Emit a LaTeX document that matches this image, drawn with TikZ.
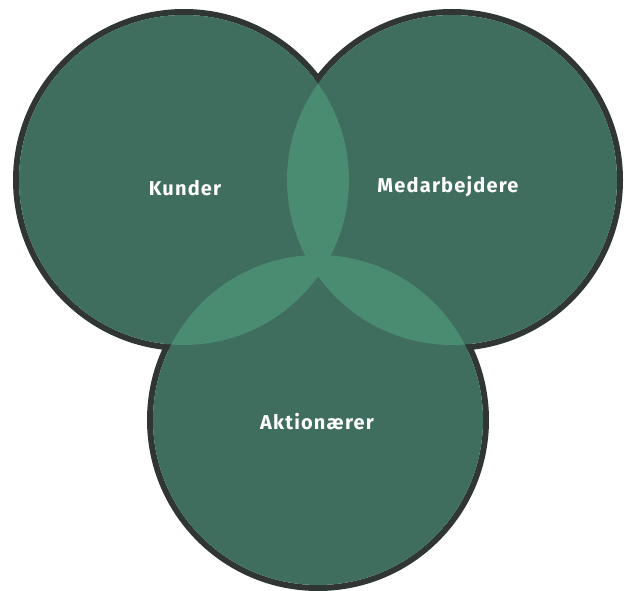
\documentclass[tikz,border=0pt]{standalone}
\usepackage{fontspec}
\setmainfont{Fira Sans}
\usetikzlibrary{positioning}
\definecolor{setfill}{RGB}{63,109,94}
\definecolor{setlens}{RGB}{74,140,114}
\definecolor{setline}{RGB}{48,54,52}
\tikzset{
  setborder/.style={
    draw=setline,
    line width=6pt
  },
  setlabel/.style={
    text=white,
    inner sep=2pt,
    font=\fontsize{20}{24}\selectfont\bfseries\addfontfeatures{LetterSpace=6}
  }
}
\begin{document}
\begin{tikzpicture}[x=1pt, y=1pt]
  \useasboundingbox (0,0) rectangle (624,590);
  \coordinate (kunder) at (184,410);
  \coordinate (medarb) at (452,410);
  \coordinate (aktion) at (318,170);

  % outer rims, then the fills on top
  \foreach \c in {kunder, medarb, aktion}
    \draw[setborder] (\c) circle[radius=168pt];
  \foreach \c in {kunder, medarb, aktion}
    \fill[setfill] (\c) circle[radius=165pt];

  % overlaps
  \begin{scope}
    \clip (kunder) circle[radius=165pt];
    \fill[setlens] (medarb) circle[radius=165pt];
    \fill[setlens] (aktion) circle[radius=165pt];
  \end{scope}
  \begin{scope}
    \clip (medarb) circle[radius=165pt];
    \fill[setlens] (aktion) circle[radius=165pt];
  \end{scope}

  \node[setlabel] (kunderlbl) at (185,402) {Kunder};
  \node[setlabel] (medarblbl) at (448,403) {Medarbejdere};
  \node[setlabel] (aktionlbl) at (317,168) {Aktionærer};
\end{tikzpicture}
\end{document}
